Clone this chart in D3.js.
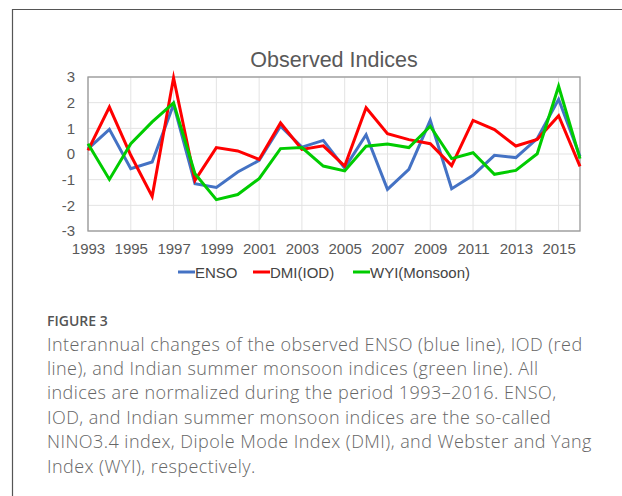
<!DOCTYPE html>
<html>
<head>
<meta charset="utf-8">
<script src="https://cdn.jsdelivr.net/npm/d3@7/dist/d3.min.js"></script>
<style>
  html, body { margin: 0; padding: 0; background: #fff; }
  svg { display: block; }
</style>
</head>
<body>
<svg id="fig" width="622" height="496"></svg>
<script>
// Years 1993–2016 and the three normalized indices
const years = d3.range(1993, 2017);
const enso = [0.2, 0.96, -0.57, -0.31, 1.93, -1.16, -1.3, -0.7, -0.25, 1.08, 0.27, 0.53,
              -0.55, 0.75, -1.38, -0.6, 1.31, -1.35, -0.83, -0.05, -0.14, 0.6, 2.13, -0.1];
const dmi  = [0.14, 1.83, -0.05, -1.65, 2.97, -1.03, 0.25, 0.12, -0.21, 1.21, 0.18, 0.32,
              -0.47, 1.8, 0.79, 0.56, 0.4, -0.45, 1.31, 0.95, 0.31, 0.57, 1.49, -0.48];
const wyi  = [0.4, -0.99, 0.4, 1.25, 1.99, -0.77, -1.78, -1.58, -0.96, 0.21, 0.25, -0.47,
              -0.66, 0.3, 0.39, 0.25, 1.08, -0.18, 0.05, -0.79, -0.64, 0.01, 2.64, -0.18];
const seriesNames = ["ENSO", "DMI(IOD)", "WYI(Monsoon)"];
const xTicks = d3.range(1993, 2017, 2);
const yTicks = [-3, -2, -1, 0, 1, 2, 3];

const colors = ["#4472C4", "#FF0000", "#00CC00"];
const series = [enso, dmi, wyi];

const svg = d3.select("#fig");

// outer panel frame
svg.append("path")
  .attr("d", "M12.5,496 L12.5,9.5 L622,9.5")
  .attr("fill", "none").attr("stroke", "#555").attr("stroke-width", 1.2);

const plot = { left: 88, right: 580, top: 77, bottom: 231 };
const x = d3.scaleLinear().domain([1993, 2016]).range([plot.left, plot.right]);
const y = d3.scaleLinear().domain([-3, 3]).range([plot.bottom, plot.top]);

// gridlines
const grid = svg.append("g");
grid.selectAll("line.h").data(yTicks).join("line")
  .attr("x1", plot.left).attr("x2", plot.right)
  .attr("y1", d => y(d)).attr("y2", d => y(d))
  .attr("stroke", "#e3e3e3").attr("stroke-width", 1);
grid.selectAll("line.v").data(xTicks).join("line")
  .attr("x1", d => x(d)).attr("x2", d => x(d))
  .attr("y1", plot.top).attr("y2", plot.bottom)
  .attr("stroke", "#e3e3e3").attr("stroke-width", 1);

// axes (labels only)
const font = "'Liberation Sans', Arial, sans-serif";
const yAxis = svg.append("g").attr("transform", `translate(${plot.left},0)`)
  .call(d3.axisLeft(y).tickValues(yTicks).tickFormat(d => String(d)).tickSize(0).tickPadding(13));
const xAxis = svg.append("g").attr("transform", `translate(0,${plot.bottom})`)
  .call(d3.axisBottom(x).tickValues(xTicks).tickFormat(d => String(d)).tickSize(0).tickPadding(12));
[yAxis, xAxis].forEach(a => {
  a.attr("font-family", font).attr("font-size", 15);
  a.select(".domain").remove();
  a.selectAll("text").attr("fill", "#595959");
});

// plot border
svg.append("rect")
  .attr("x", plot.left).attr("y", plot.top)
  .attr("width", plot.right - plot.left).attr("height", plot.bottom - plot.top)
  .attr("fill", "none").attr("stroke", "#999").attr("stroke-width", 1.3);

// series lines
const line = d3.line().x((d, i) => x(years[i])).y(d => y(d));
svg.append("g").selectAll("path").data(series).join("path")
  .attr("d", d => line(d))
  .attr("fill", "none")
  .attr("stroke", (d, i) => colors[i])
  .attr("stroke-width", 3)
  .attr("stroke-linejoin", "miter").attr("stroke-miterlimit", 10);

// title
svg.append("text").attr("x", (plot.left + plot.right) / 2).attr("y", 67)
  .attr("text-anchor", "middle").attr("font-family", font).attr("font-size", 21.5)
  .attr("fill", "#595959").text("Observed Indices");

// legend
const legendX = [178, 253, 353];
const lg = svg.append("g").selectAll("g").data(seriesNames).join("g")
  .attr("transform", (d, i) => `translate(${legendX[i]},272)`);
lg.append("line").attr("x1", 0).attr("x2", 17).attr("y1", 0).attr("y2", 0)
  .attr("stroke", (d, i) => colors[i]).attr("stroke-width", 3);
lg.append("text").attr("x", 17).attr("y", 5.5)
  .attr("font-family", font).attr("font-size", 15).attr("fill", "#444")
  .text(d => d);

// caption
svg.append("text").attr("x", 47).attr("y", 326)
  .attr("font-family", "'Open Sans', sans-serif").attr("font-size", 14)
  .attr("font-weight", 600).attr("fill", "#555").text("FIGURE 3");

const captionLines = [
  "Interannual changes of the observed ENSO (blue line), IOD (red",
  "line), and Indian summer monsoon indices (green line). All",
  "indices are normalized during the period 1993\u20132016. ENSO,",
  "IOD, and Indian summer monsoon indices are the so-called",
  "NINO3.4 index, Dipole Mode Index (DMI), and Webster and Yang",
  "Index (WYI), respectively."
];
svg.append("g").selectAll("text").data(captionLines).join("text")
  .attr("x", 47).attr("y", (d, i) => 350.5 + i * 24.4)
  .attr("font-family", "'Open Sans', sans-serif").attr("font-size", 18)
  .attr("font-weight", 300).attr("letter-spacing", 0.45).attr("fill", "#666")
  .text(d => d);
</script>
</body>
</html>
